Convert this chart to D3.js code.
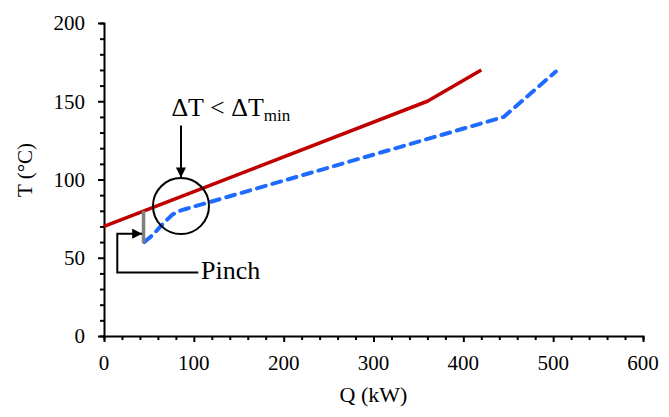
<!DOCTYPE html>
<html><head><meta charset="utf-8">
<script src="https://cdn.jsdelivr.net/npm/d3@7"></script>
<style>body{margin:0;background:#fff}svg{display:block}svg text{font-family:"Liberation Serif","Times New Roman",serif !important;fill:#000 !important}</style>
</head><body>
<script>
// Data
const hotQ = [0, 360, 420];
const hotT = [70, 150, 170];
const coldQ = [45, 55, 66, 76, 84, 92, 445, 503];
const coldT = [60, 65, 72, 77.5, 80, 81.3, 140, 169];
const pinchQ = [44, 44];
const pinchT = [59.5, 80];
const xTicks = [0, 100, 200, 300, 400, 500, 600];
const yTicks = [0, 50, 100, 150, 200];
const xTitle = "Q (kW)";
const yTitle = "T (°C)";

const W = 669, H = 417;
const serif = '"Liberation Serif","Times New Roman",serif';
const x = d3.scaleLinear().domain([0, 600]).range([104, 643]);
const y = d3.scaleLinear().domain([0, 200]).range([336, 23]);

const svg = d3.select("body").append("svg").attr("width", W).attr("height", H);
const defs = svg.append("defs");
defs.append("marker").attr("id", "ah").attr("viewBox", "0 0 10 10").attr("refX", 10).attr("refY", 5)
  .attr("markerWidth", 12).attr("markerHeight", 10).attr("markerUnits", "userSpaceOnUse").attr("orient", "auto")
  .append("path").attr("d", "M0,0 L10,5 L0,10 z").attr("fill", "#000");

// axes
const tickFont = "21px";
const gx = svg.append("g").attr("transform", `translate(0,${y(0)})`);
gx.call(d3.axisBottom(x).tickValues(d3.range(0, 601, 20)).tickSize(4).tickFormat(""));
gx.call(g => g.selectAll(".tick").filter(d => d % 100 === 0).select("line").attr("y2", 6));
const gy = svg.append("g").attr("transform", `translate(${x(0)},0)`);
gy.call(d3.axisLeft(y).tickValues(d3.range(0, 201, 10)).tickSize(4).tickFormat(""));
gy.call(g => g.selectAll(".tick").filter(d => d % 50 === 0).select("line").attr("x2", -6));
svg.selectAll(".domain").attr("stroke", "#000").attr("stroke-width", 2);
svg.selectAll(".tick line").attr("stroke", "#000").attr("stroke-width", 2);

const labels = svg.append("g").attr("font-family", serif).attr("fill", "#000");
labels.selectAll("text.xt").data(xTicks).join("text").attr("class", "xt")
  .attr("x", d => x(d)).attr("y", y(0) + 34).attr("text-anchor", "middle").style("font-size", tickFont).text(d => d);
labels.selectAll("text.yt").data(yTicks).join("text").attr("class", "yt")
  .attr("x", x(0) - 19).attr("y", d => y(d)).attr("dy", "0.35em").attr("text-anchor", "end").style("font-size", tickFont).text(d => d);
labels.append("text").attr("x", (x(0) + x(600)) / 2).attr("y", 402).attr("text-anchor", "middle").style("font-size", "22px").text(xTitle);
labels.append("text").attr("transform", `translate(32,170) rotate(-90)`).attr("text-anchor", "middle").style("font-size", "21px").text(yTitle);

// series
const line = d3.line().x(d => x(d[0])).y(d => y(d[1]));
svg.append("path").datum(hotQ.map((q, i) => [q, hotT[i]])).attr("d", line)
  .attr("fill", "none").attr("stroke", "#c00000").attr("stroke-width", 3.5).attr("stroke-linejoin", "round");
svg.append("path").datum(coldQ.map((q, i) => [q, coldT[i]])).attr("d", line)
  .attr("fill", "none").attr("stroke", "#1f6bff").attr("stroke-width", 4).attr("stroke-dasharray", "9,7")
  .attr("stroke-linecap", "round").attr("stroke-linejoin", "round");
svg.append("path").datum(pinchQ.map((q, i) => [q, pinchT[i]])).attr("d", line)
  .attr("fill", "none").attr("stroke", "#808080").attr("stroke-width", 3.5);

// annotations (data units)
const circ = { q: 85.7, t: 83, r: 28 };
svg.append("circle").attr("cx", x(circ.q)).attr("cy", y(circ.t)).attr("r", circ.r)
  .attr("fill", "none").attr("stroke", "#000").attr("stroke-width", 2);
svg.append("line").attr("x1", x(85.7)).attr("y1", y(134.5)).attr("x2", x(85.7)).attr("y2", y(101.2))
  .attr("stroke", "#000").attr("stroke-width", 2).attr("marker-end", "url(#ah)");
const dt = labels.append("text").attr("x", x(75)).attr("y", y(140.5)).style("font-size", "26px");
dt.append("tspan").text("ΔT < ΔT");
dt.append("tspan").attr("dy", 5).style("font-size", "17px").text("min");

svg.append("path").attr("d", `M${x(105)},${y(40.6)} H${x(14.8)} V${y(65.4)} H${x(42.5)}`)
  .attr("fill", "none").attr("stroke", "#000").attr("stroke-width", 2).attr("marker-end", "url(#ah)");
labels.append("text").attr("x", x(108)).attr("y", y(36.4)).style("font-size", "26px").text("Pinch");
</script>
</body></html>
